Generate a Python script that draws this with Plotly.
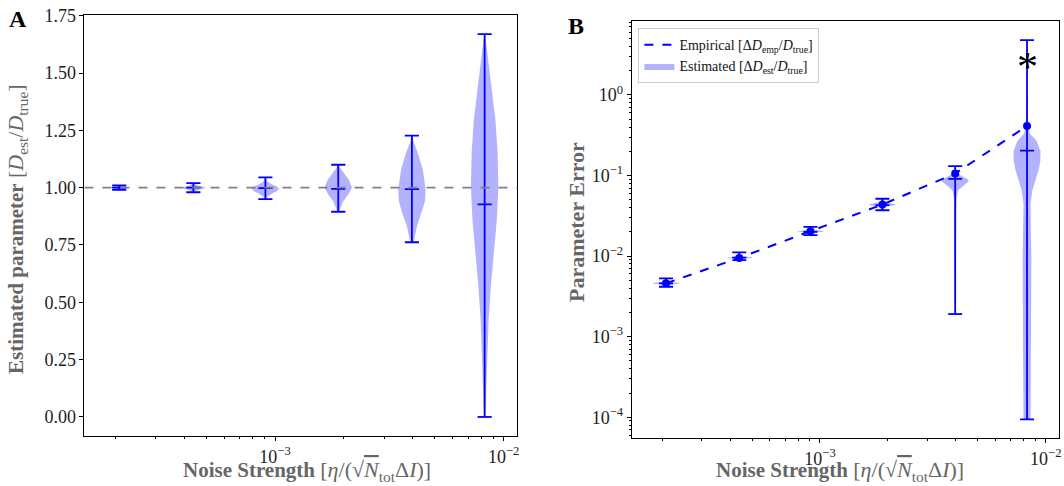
import numpy as np
import plotly.graph_objects as go

# noise strength of each run (shared by both panels)
noise = [2.08e-4, 4.39e-4, 9.07e-4, 1.89e-3, 3.97e-3, 8.26e-3]

# panel A: estimated / true parameter
ratio_min = [0.990, 0.980, 0.950, 0.895, 0.762, 0.000]
ratio_max = [1.010, 1.020, 1.045, 1.100, 1.227, 1.670]
ratio_med = [1.000, 1.000, 0.998, 0.995, 0.994, 0.927]
ratio_shape_y = [
    [0.990, 0.995, 1.000, 1.005, 1.010],
    [0.980, 0.990, 0.995, 1.000, 1.005, 1.010, 1.020],
    [0.950, 0.960, 0.975, 0.985, 0.995, 1.005, 1.015, 1.025, 1.035, 1.045],
    [0.895, 0.910, 0.940, 0.970, 1.000, 1.035, 1.065, 1.085, 1.100],
    [0.762, 0.770, 0.830, 0.888, 0.940, 0.990, 1.030, 1.077, 1.150, 1.200, 1.227],
    [0.000, 0.130, 0.278, 0.423, 0.568, 0.714, 0.859, 1.004, 1.150, 1.295, 1.440, 1.580, 1.670],
]
ratio_shape_w = [
    [0.20, 0.50, 0.55, 0.50, 0.20],
    [0.05, 0.30, 0.70, 0.88, 0.70, 0.30, 0.05],
    [0.03, 0.15, 0.50, 0.85, 1.00, 0.85, 0.45, 0.20, 0.08, 0.03],
    [0.05, 0.15, 0.36, 0.73, 1.00, 0.77, 0.42, 0.15, 0.03],
    [0.03, 0.15, 0.36, 0.70, 0.95, 1.00, 0.92, 0.80, 0.44, 0.12, 0.03],
    [0.05, 0.12, 0.18, 0.29, 0.45, 0.67, 0.89, 1.00, 0.95, 0.79, 0.49, 0.20, 0.03],
]

# panel B: parameter error
err_emp = [4.6e-3, 9.5e-3, 2.04e-2, 4.37e-2, 0.106, 0.412]
err_min = [4.17e-3, 8.9e-3, 1.82e-2, 3.71e-2, 1.91e-3, 9.4e-5]
err_max = [5.28e-3, 1.11e-2, 2.31e-2, 5.15e-2, 0.131, 4.8]
err_med = [4.6e-3, 9.6e-3, 2.0e-2, 4.3e-2, 0.091, 0.204]
err_shape_y = [
    [4.17e-3, 4.40e-3, 4.55e-3, 4.65e-3, 4.80e-3, 5.28e-3],
    [8.9e-3, 9.3e-3, 9.5e-3, 9.7e-3, 1.0e-2, 1.11e-2],
    [1.82e-2, 1.95e-2, 2.0e-2, 2.05e-2, 2.15e-2, 2.31e-2],
    [3.71e-2, 4.1e-2, 4.3e-2, 4.45e-2, 4.7e-2, 5.15e-2],
    [1.91e-3, 0.01, 0.05, 0.065, 0.075, 0.085, 0.09, 0.10, 0.115, 0.131],
    [9.4e-5, 1e-3, 0.01, 0.02, 0.045, 0.066, 0.09, 0.12, 0.15, 0.20, 0.27, 0.33, 0.45, 1.0, 4.8],
]
err_shape_w = [
    [0.03, 0.15, 0.90, 1.00, 0.15, 0.03],
    [0.03, 0.20, 1.00, 0.90, 0.15, 0.03],
    [0.03, 0.20, 1.00, 0.90, 0.15, 0.03],
    [0.03, 0.20, 1.00, 0.90, 0.15, 0.03],
    [0.03, 0.05, 0.08, 0.20, 0.60, 1.00, 0.95, 0.40, 0.08, 0.02],
    [0.26, 0.30, 0.32, 0.28, 0.26, 0.40, 0.65, 0.87, 0.98, 1.00, 0.70, 0.22, 0.04, 0.02, 0.01],
]

BLUE = "#0000ff"
FILL = "rgba(0,0,255,0.3)"
HALF = 0.06   # violin half width in decades of x
CAP = 0.031   # cap half length in decades of x
FONT = "Liberation Serif"


def violin_outline(pos, ys, ws):
    right = [pos * 10 ** (HALF * w) for w in ws]
    left = [pos * 10 ** (-HALF * w) for w in ws]
    return right + left[::-1], list(ys) + list(ys)[::-1]


def bar_segments(lo, hi, mid):
    xs, ys = [], []
    for p, a, b, m in zip(noise, lo, hi, mid):
        xs += [p, p, None]
        ys += [a, b, None]
        for v in (a, b, m):
            xs += [p * 10 ** -CAP, p * 10 ** CAP, None]
            ys += [v, v, None]
    return xs, ys


fig = go.Figure()

# panel A
for p, ys, ws in zip(noise, ratio_shape_y, ratio_shape_w):
    vx, vy = violin_outline(p, ys, ws)
    fig.add_trace(go.Scatter(x=vx, y=vy, fill="toself", fillcolor=FILL, mode="lines",
                             line=dict(width=0), showlegend=False, hoverinfo="skip",
                             xaxis="x", yaxis="y"))
bx, by = bar_segments(ratio_min, ratio_max, ratio_med)
fig.add_trace(go.Scatter(x=bx, y=by, mode="lines", line=dict(color=BLUE, width=1.8),
                         showlegend=False, xaxis="x", yaxis="y"))

# panel B
for i, (p, ys, ws) in enumerate(zip(noise, err_shape_y, err_shape_w)):
    vx, vy = violin_outline(p, ys, ws)
    fig.add_trace(go.Scatter(x=vx, y=vy, fill="toself", fillcolor=FILL, mode="lines",
                             line=dict(width=0), showlegend=(i == 0), legendrank=2,
                             legendgroup="est", hoverinfo="skip",
                             name="Estimated [Δ<i>D</i><sub>est</sub>/<i>D</i><sub>true</sub>]",
                             xaxis="x2", yaxis="y2"))
bx, by = bar_segments(err_min, err_max, err_med)
fig.add_trace(go.Scatter(x=bx, y=by, mode="lines", line=dict(color=BLUE, width=1.8),
                         showlegend=False, xaxis="x2", yaxis="y2"))
fig.add_trace(go.Scatter(x=noise, y=err_emp, mode="lines", line=dict(color=BLUE, width=2, dash="dash"),
                         name="Empirical [Δ<i>D</i><sub>emp</sub>/<i>D</i><sub>true</sub>]",
                         legendrank=1, xaxis="x2", yaxis="y2"))
fig.add_trace(go.Scatter(x=noise, y=err_emp, mode="markers", marker=dict(color=BLUE, size=8),
                         showlegend=False, xaxis="x2", yaxis="y2"))

fig.add_shape(type="line", xref="x domain", yref="y", x0=0, x1=1, y0=1.0, y1=1.0,
              line=dict(color="gray", width=1.6, dash="dash"))

minor_x = [m * 10.0 ** e for e in (-4, -3) for m in range(2, 10)]
minor_y = [m * 10.0 ** e for e in range(-5, 1) for m in range(2, 10)]
axis_common = dict(showline=True, mirror=True, linecolor="black", linewidth=1, ticks="outside",
                   ticklen=4, tickcolor="black", showgrid=False, zeroline=False, automargin=False,
                   tickfont=dict(family=FONT, size=18, color="#222"))
xticks = dict(type="log", range=[-3.834, -1.94], tickvals=[1e-3, 1e-2],
              ticktext=["10<sup>−3</sup>", "10<sup>−2</sup>"],
              minor=dict(ticks="outside", ticklen=2, tickcolor="black", tickvals=minor_x, showgrid=False))

fig.update_layout(
    width=1064, height=486, autosize=False,
    margin=dict(l=0, r=0, t=0, b=0),
    plot_bgcolor="white", paper_bgcolor="white",
    xaxis=dict(domain=[0.0794, 0.4862], anchor="y", **xticks, **axis_common),
    yaxis=dict(domain=[0.1029, 0.9691], anchor="x", range=[-0.083, 1.753],
               tickvals=[0, 0.25, 0.5, 0.75, 1.0, 1.25, 1.5, 1.75], tickformat=".2f", **axis_common),
    xaxis2=dict(domain=[0.5937, 0.9956], anchor="y2", **xticks, **axis_common),
    yaxis2=dict(domain=[0.0988, 0.9568], anchor="x2", type="log", range=[-4.257, 0.918],
                tickvals=[1e-4, 1e-3, 1e-2, 1e-1, 1],
                ticktext=["10<sup>−4</sup>", "10<sup>−3</sup>", "10<sup>−2</sup>", "10<sup>−1</sup>", "10<sup>0</sup>"],
                minor=dict(ticks="outside", ticklen=2, tickcolor="black", tickvals=minor_y, showgrid=False),
                **axis_common),
    legend=dict(x=0.600, y=0.942, xanchor="left", yanchor="top", bgcolor="white",
                bordercolor="#cccccc", borderwidth=1, font=dict(family=FONT, size=14, color="#111"),
                traceorder="normal"),
    font=dict(family=FONT),
)

title_font = dict(family=FONT, size=21, color="#666666")
xlabel = ("<b>Noise Strength</b> <span style='font-size:22px'>[<i>η</i>/(√"
          "<span style='text-decoration:overline'><i>N</i></span><sub>tot</sub>Δ<i>I</i>)]</span>")
centred = dict(xref="paper", yref="paper", xanchor="center", yanchor="middle", showarrow=False)
fig.add_annotation(text=xlabel, x=307 / 1064, y=1 - 471 / 486, font=title_font, **centred)
fig.add_annotation(text=xlabel, x=840 / 1064, y=1 - 471 / 486, font=title_font, **centred)
fig.add_annotation(text="<b>Estimated parameter</b> <span style='font-size:22px'>[<i>D</i><sub>est</sub>"
                        "/<i>D</i><sub>true</sub>]</span>",
                   x=17 / 1064, y=1 - 229 / 486, textangle=-90, font=title_font, **centred)
fig.add_annotation(text="<b>Parameter Error</b>", x=576 / 1064, y=1 - 222 / 486, textangle=-90,
                   font=dict(family=FONT, size=22, color="#666666"), **centred)
fig.add_annotation(text="<b>A</b>", x=18 / 1064, y=1 - 19 / 486,
                   font=dict(family=FONT, size=24, color="black"), **centred)
fig.add_annotation(text="<b>B</b>", x=576 / 1064, y=1 - 26 / 486,
                   font=dict(family=FONT, size=24, color="black"), **centred)
fig.add_annotation(text="*", xref="x2", yref="y2", x=np.log10(noise[5]), y=np.log10(2.2),
                   xanchor="center", yanchor="middle", showarrow=False,
                   font=dict(family=FONT, size=42, color="black"))

fig.write_html("out.html", config={"displayModeBar": False},
               post_script="document.body.style.margin='0px';")
